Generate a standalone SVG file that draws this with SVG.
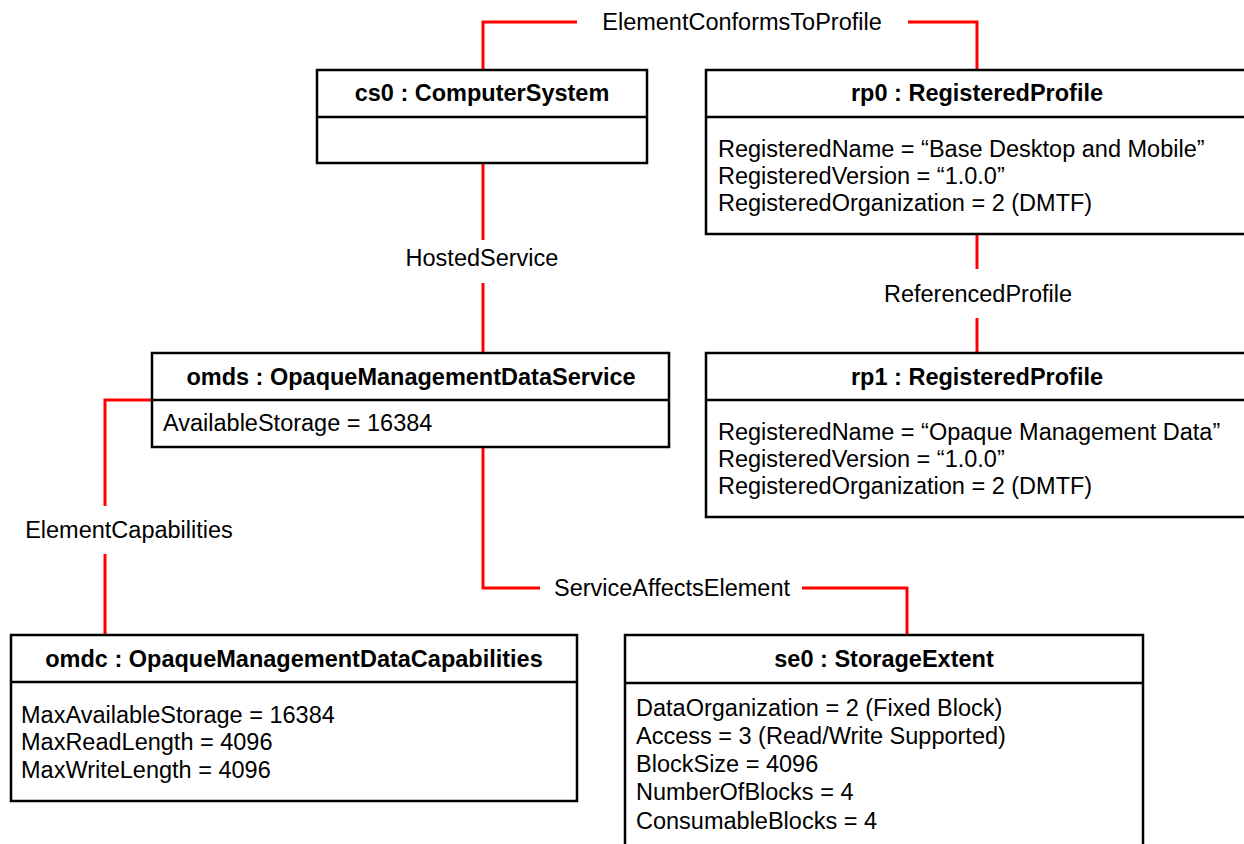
<svg xmlns="http://www.w3.org/2000/svg" width="1244" height="844" viewBox="0 0 1244 844">
<style>
.box{fill:#fff;stroke:#000;stroke-width:2.5}
.div{stroke:#000;stroke-width:2.5}
.t{font-family:"Liberation Sans",Arial,sans-serif;font-size:23.5px;fill:#000}
.b{font-weight:bold;text-anchor:middle}
.c{text-anchor:middle}
.con{fill:none;stroke:#f00;stroke-width:3}
</style>
<rect width="1244" height="844" fill="#fff"/>
<g id="connectors">
<path class="con" d="M483,70 V22 H577"/>
<path class="con" d="M908,22 H977 V70"/>
<text class="t c" x="742" y="30">ElementConformsToProfile</text>
<path class="con" d="M483,163 V240"/>
<path class="con" d="M483,283 V353"/>
<text class="t c" x="482" y="266">HostedService</text>
<path class="con" d="M977,234 V269"/>
<path class="con" d="M977,318 V353"/>
<text class="t c" x="978" y="302">ReferencedProfile</text>
<path class="con" d="M152,400 H105 V506"/>
<path class="con" d="M105,554 V635"/>
<text class="t c" x="129" y="538">ElementCapabilities</text>
<path class="con" d="M483,447 V588 H540"/>
<path class="con" d="M802,588 H907 V635"/>
<text class="t c" x="672" y="596">ServiceAffectsElement</text>
</g>
<g id="cs0">
<rect class="box" x="317" y="70" width="330" height="93"/>
<line class="div" x1="317" y1="117" x2="647" y2="117"/>
<text class="t b" x="482" y="101">cs0 : ComputerSystem</text>
</g>
<g id="rp0">
<rect class="box" x="706" y="70" width="545" height="164"/>
<line class="div" x1="706" y1="117" x2="1251" y2="117"/>
<text class="t b" x="977" y="101">rp0 : RegisteredProfile</text>
<text class="t" x="718" y="157">RegisteredName = “Base Desktop and Mobile”</text>
<text class="t" x="718" y="184">RegisteredVersion = “1.0.0”</text>
<text class="t" x="718" y="211">RegisteredOrganization = 2 (DMTF)</text>
</g>
<g id="rp1">
<rect class="box" x="706" y="353" width="545" height="164"/>
<line class="div" x1="706" y1="400" x2="1251" y2="400"/>
<text class="t b" x="977" y="385">rp1 : RegisteredProfile</text>
<text class="t" x="718" y="440">RegisteredName = “Opaque Management Data”</text>
<text class="t" x="718" y="467">RegisteredVersion = “1.0.0”</text>
<text class="t" x="718" y="494">RegisteredOrganization = 2 (DMTF)</text>
</g>
<g id="omds">
<rect class="box" x="152" y="353" width="517" height="94"/>
<line class="div" x1="152" y1="400" x2="669" y2="400"/>
<text class="t b" x="411" y="385">omds : OpaqueManagementDataService</text>
<text class="t" x="163" y="431">AvailableStorage = 16384</text>
</g>
<g id="omdc">
<rect class="box" x="11" y="635" width="566" height="166"/>
<line class="div" x1="11" y1="682" x2="577" y2="682"/>
<text class="t b" x="294" y="667">omdc : OpaqueManagementDataCapabilities</text>
<text class="t" x="21" y="723">MaxAvailableStorage = 16384</text>
<text class="t" x="21" y="750">MaxReadLength = 4096</text>
<text class="t" x="21" y="778">MaxWriteLength = 4096</text>
</g>
<g id="se0">
<rect class="box" x="625" y="635" width="518" height="230"/>
<line class="div" x1="625" y1="683" x2="1143" y2="683"/>
<text class="t b" x="884" y="667">se0 : StorageExtent</text>
<text class="t" x="636" y="716">DataOrganization = 2 (Fixed Block)</text>
<text class="t" x="636" y="744">Access = 3 (Read/Write Supported)</text>
<text class="t" x="636" y="772">BlockSize = 4096</text>
<text class="t" x="636" y="800">NumberOfBlocks = 4</text>
<text class="t" x="636" y="829">ConsumableBlocks = 4</text>
</g>
</svg>
